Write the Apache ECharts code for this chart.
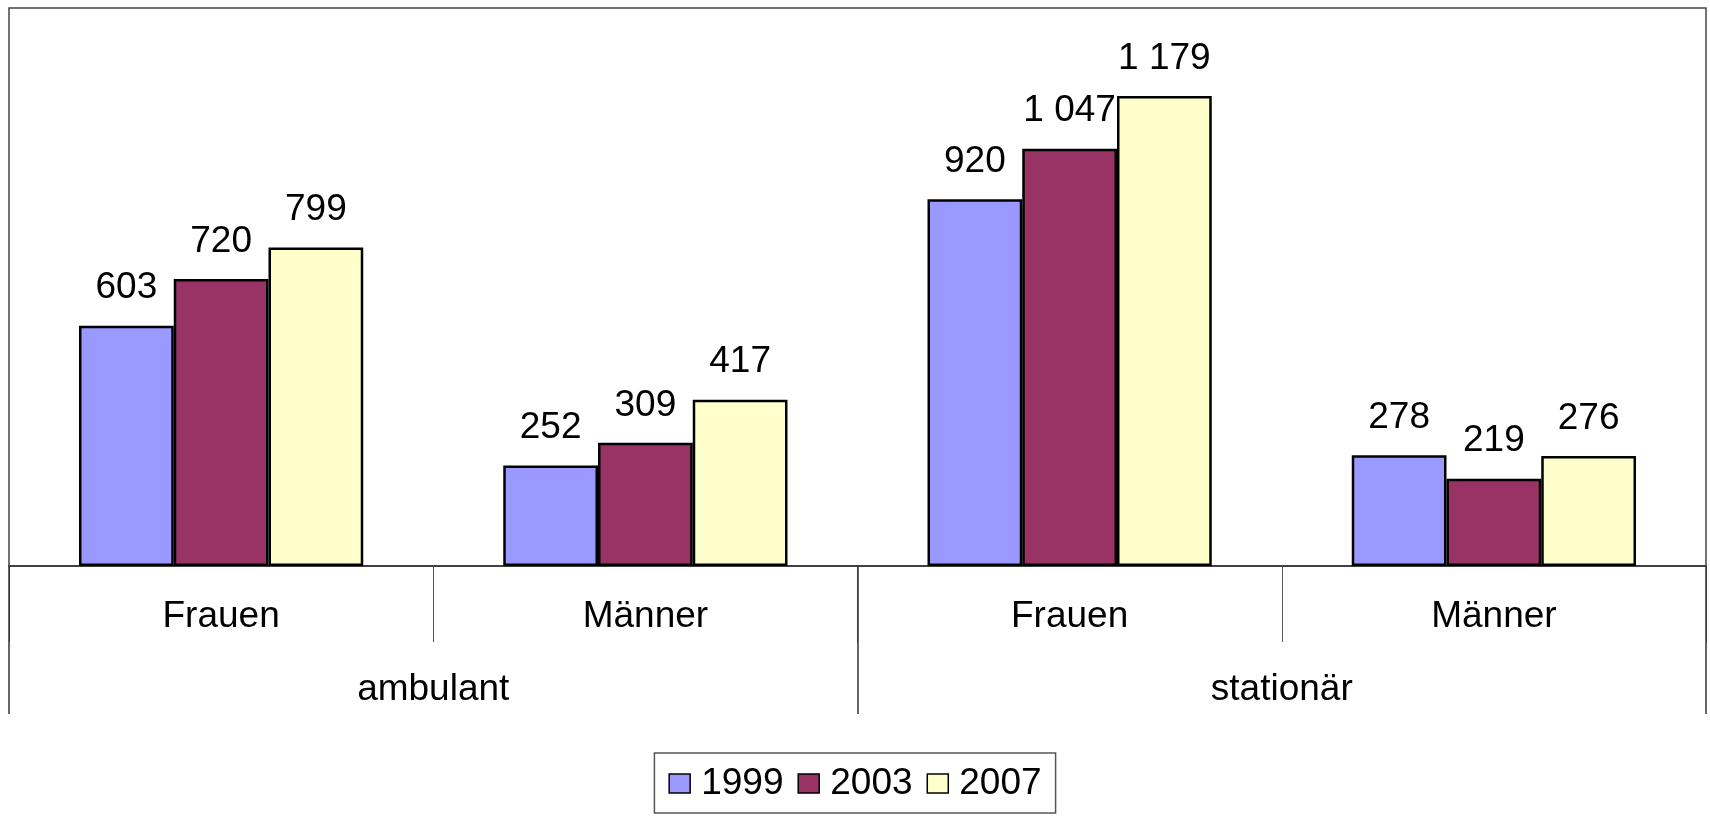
<!DOCTYPE html>
<html>
<head>
<meta charset="utf-8">
<script src="https://cdn.jsdelivr.net/npm/echarts@6/dist/echarts.min.js"></script>
<style>
html,body{margin:0;padding:0;background:#fff;}
#chart{width:1710px;height:818px;}
</style>
</head>
<body>
<div id="chart"></div>
<script>
const subCategories = ['Frauen', 'Männer', 'Frauen', 'Männer'];
const groupCategories = ['ambulant', 'stationär'];
const seriesNames = ['1999', '2003', '2007'];
const values1999 = [603, 252, 920, 278];
const values2003 = [720, 309, 1047, 219];
const values2007 = [799, 417, 1179, 276];
const seriesColors = ['#9999FF', '#993366', '#FFFFCC'];

const FONT = '"Liberation Sans", Arial, sans-serif';
const FS = 37;
function fmt(v) {
  if (v >= 1000) {
    const r = v % 1000;
    return Math.floor(v / 1000) + ' ' + String(r).padStart(3, '0');
  }
  return String(v);
}

const allValues = [values1999, values2003, values2007];
const chart = echarts.init(document.getElementById('chart'));
chart.setOption({
  animation: false,
  backgroundColor: '#fff',
  grid: {
    left: 9, right: 4, top: 8, bottom: 252,
    show: true, borderColor: '#444', borderWidth: 1.5, backgroundColor: 'transparent'
  },
  legend: {
    data: seriesNames.map(n => ({ name: n, icon: 'rect' })),
    left: 'center',
    top: 753,
    orient: 'horizontal',
    itemWidth: 21,
    itemHeight: 19,
    itemGap: 14,
    padding: [12, 14, 11, 14],
    borderColor: '#555',
    borderWidth: 1.5,
    textStyle: { fontFamily: FONT, fontSize: FS, color: '#000', padding: [0, 0, 0, 6] },
    itemStyle: { borderColor: '#000', borderWidth: 1.5 }
  },
  xAxis: [
    {
      type: 'category',
      position: 'bottom',
      data: subCategories,
      boundaryGap: true,
      axisLine: { show: true, lineStyle: { color: '#404040', width: 2 } },
      axisTick: { show: true, interval: 0, length: 76, lineStyle: { color: '#555', width: 1 } },
      axisLabel: { interval: 0, margin: 32, fontFamily: FONT, fontSize: FS, color: '#000' },
      splitLine: { show: false }
    },
    {
      type: 'category',
      position: 'bottom',
      data: groupCategories,
      boundaryGap: true,
      axisLine: { show: false },
      axisTick: { show: true, interval: 0, length: 148, lineStyle: { color: '#333', width: 1.5 } },
      axisLabel: { interval: 0, margin: 105, fontFamily: FONT, fontSize: FS, color: '#000' },
      splitLine: { show: false }
    }
  ],
  yAxis: {
    type: 'value',
    min: 0,
    max: 1400,
    show: false,
    splitLine: { show: false }
  },
  series: seriesNames.map((name, i) => ({
    name: name,
    type: 'bar',
    xAxisIndex: 0,
    data: allValues[i],
    barGap: '0%',
    barCategoryGap: '33%',
    itemStyle: { color: seriesColors[i], borderColor: '#000', borderWidth: 2.5 },
    label: {
      show: true,
      position: 'top',
      distance: 19,
      fontFamily: FONT,
      fontSize: FS,
      color: '#000',
      formatter: p => fmt(p.value)
    }
  }))
});
</script>
</body>
</html>
